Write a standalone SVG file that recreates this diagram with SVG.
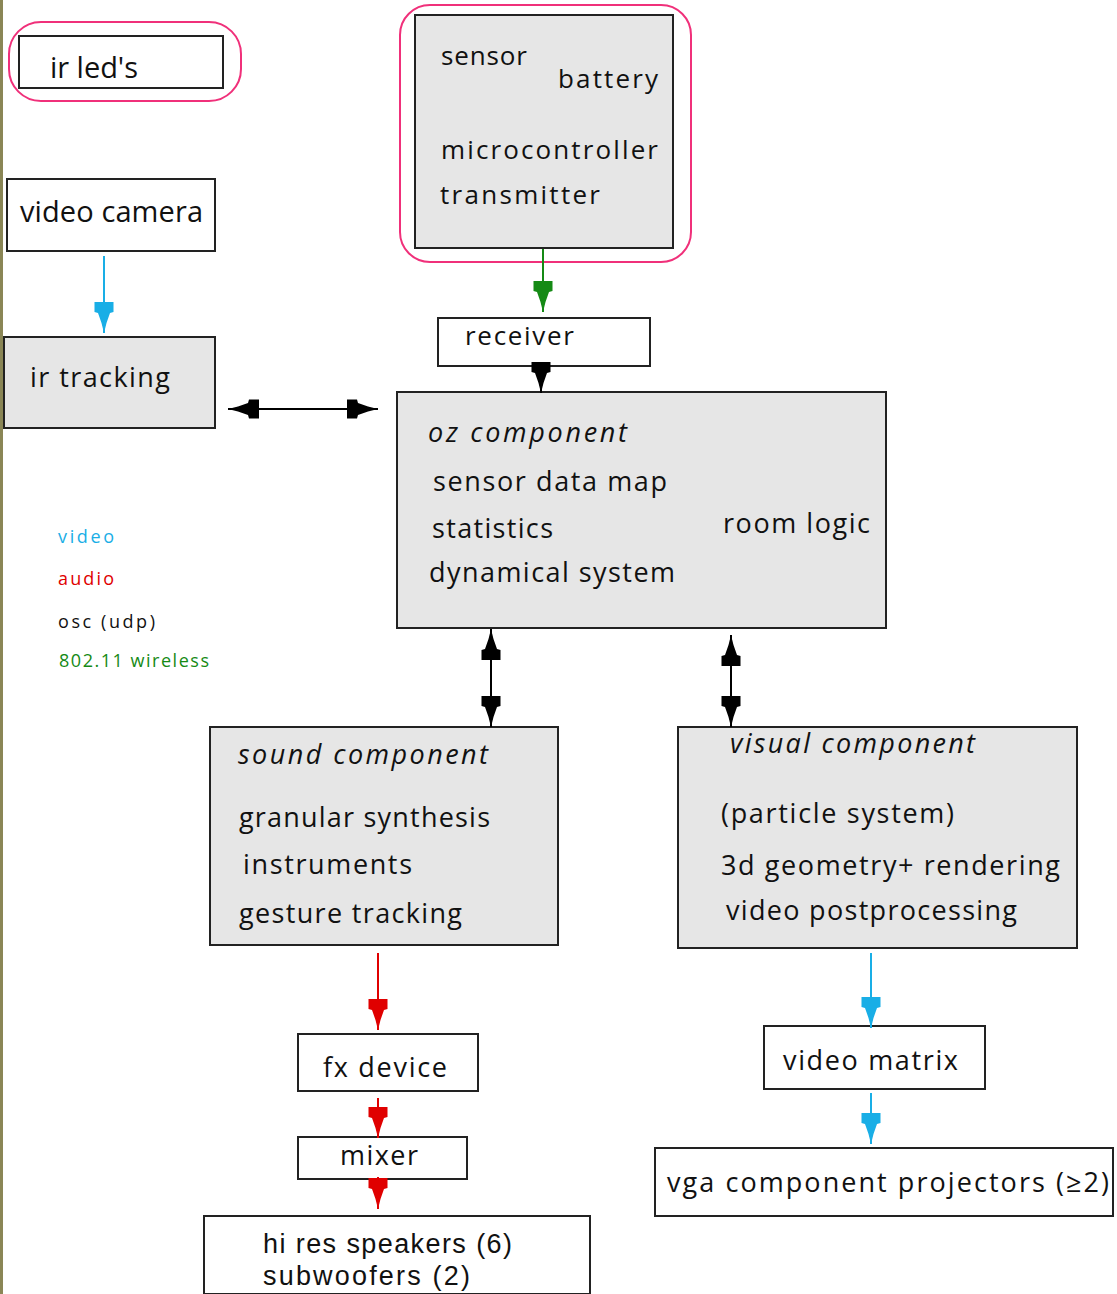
<svg xmlns="http://www.w3.org/2000/svg" width="1117" height="1294" viewBox="0 0 1117 1294">
  <style>
    .box { stroke: #222; stroke-width: 2; }
    .white { fill: #fff; }
    .gray { fill: #e6e6e6; }
    .halo { fill: none; stroke: #f0307a; stroke-width: 2; }
    text { font-family: "Open Sans", "Liberation Sans", sans-serif; fill: #111; }
    .t { font-size: 27px; }
    .tb { font-size: 29px; }
    .ts { font-size: 26px; }
    .tt { font-size: 27px; font-family: "Liberation Sans", "Open Sans", sans-serif; }
    .it { font-style: italic; }
    .leg { font-size: 18px; }
    .wire { fill: none; stroke-width: 2; }
  </style>
  <defs>
    <!-- chunky arrowhead, tip at origin pointing along +x -->
    <marker id="hk" markerUnits="userSpaceOnUse" viewBox="-32 -11 34 22" refX="0" refY="0" markerWidth="34" markerHeight="22" orient="auto-start-reverse">
      <path d="M0,0 L-10,-2.5 L-20,-6 L-21,-9.5 L-31,-9.5 L-31,9.5 L-21,9.5 L-20,6 L-10,2.5 Z" fill="#000"/>
    </marker>
    <marker id="hb" markerUnits="userSpaceOnUse" viewBox="-32 -11 34 22" refX="0" refY="0" markerWidth="34" markerHeight="22" orient="auto">
      <path d="M0,0 L-10,-2.5 L-20,-6 L-21,-9.5 L-31,-9.5 L-31,9.5 L-21,9.5 L-20,6 L-10,2.5 Z" fill="#19aee6"/>
    </marker>
    <marker id="hr" markerUnits="userSpaceOnUse" viewBox="-32 -11 34 22" refX="0" refY="0" markerWidth="34" markerHeight="22" orient="auto">
      <path d="M0,0 L-10,-2.5 L-20,-6 L-21,-9.5 L-31,-9.5 L-31,9.5 L-21,9.5 L-20,6 L-10,2.5 Z" fill="#e00000"/>
    </marker>
    <marker id="hg" markerUnits="userSpaceOnUse" viewBox="-32 -11 34 22" refX="0" refY="0" markerWidth="34" markerHeight="22" orient="auto">
      <path d="M0,0 L-10,-2.5 L-20,-6 L-21,-9.5 L-31,-9.5 L-31,9.5 L-21,9.5 L-20,6 L-10,2.5 Z" fill="#158a15"/>
    </marker>
  </defs>

  <rect x="0" y="0" width="1117" height="1294" fill="#fff"/>
  <rect x="0" y="0" width="3" height="1294" fill="#8a8656"/>

  <g id="ir-leds">
    <rect class="halo" x="9" y="22" width="232" height="79" rx="32"/>
    <rect class="box white" x="19" y="36" width="204" height="52"/>
    <text class="tb" x="50" y="78" textLength="88">ir led's</text>
  </g>

  <g id="sensor-unit">
    <rect class="halo" x="400" y="5" width="291" height="257" rx="30"/>
    <rect class="box gray" x="415" y="15" width="258" height="233"/>
    <text class="ts" x="441" y="65" textLength="86">sensor</text>
    <text class="ts" x="558" y="88" textLength="100">battery</text>
    <text class="ts" x="441" y="159" textLength="217">microcontroller</text>
    <text class="ts" x="440" y="204" textLength="160">transmitter</text>
  </g>

  <g id="receiver">
    <rect class="box white" x="438" y="318" width="212" height="48"/>
    <text class="ts" x="465" y="345" textLength="109">receiver</text>
  </g>

  <g id="video-camera">
    <rect class="box white" x="7" y="179" width="208" height="72"/>
    <text class="tb" x="20" y="222" textLength="183">video camera</text>
  </g>

  <g id="ir-tracking">
    <rect class="box gray" x="4" y="337" width="211" height="91"/>
    <text class="t" x="30" y="387" textLength="140">ir tracking</text>
  </g>

  <g id="oz-component">
    <rect class="box gray" x="397" y="392" width="489" height="236"/>
    <text class="t it" x="428" y="442" textLength="199">oz component</text>
    <text class="t" x="433" y="491" textLength="234">sensor  data map</text>
    <text class="t" x="432" y="538" textLength="121">statistics</text>
    <text class="t" x="429" y="582" textLength="246">dynamical system</text>
    <text class="t" x="723" y="533" textLength="147">room logic</text>
  </g>

  <g id="legend">
    <text class="leg" x="58" y="543" textLength="56" style="fill:#19aee6">video</text>
    <text class="leg" x="58" y="585" textLength="56" style="fill:#e00000">audio</text>
    <text class="leg" x="58" y="628" textLength="97" style="fill:#111">osc (udp)</text>
    <text class="leg" x="59" y="667" textLength="150" style="fill:#158a15">802.11 wireless</text>
  </g>

  <g id="sound-component">
    <rect class="box gray" x="210" y="727" width="348" height="218"/>
    <text class="t it" x="238" y="764" textLength="250">sound component</text>
    <text class="t" x="239" y="827" textLength="251">granular synthesis</text>
    <text class="t" x="243" y="874" textLength="169">instruments</text>
    <text class="t" x="239" y="923" textLength="223">gesture tracking</text>
  </g>

  <g id="visual-component">
    <rect class="box gray" x="678" y="727" width="399" height="221"/>
    <text class="t it" x="730" y="753" textLength="245">visual component</text>
    <text class="t" x="721" y="823" textLength="233">(particle system)</text>
    <text class="t" x="721" y="875" textLength="339">3d geometry+ rendering</text>
    <text class="t" x="726" y="920" textLength="291">video postprocessing</text>
  </g>

  <g id="fx-device">
    <rect class="box white" x="298" y="1034" width="180" height="57"/>
    <text class="t" x="323" y="1077" textLength="124">fx device</text>
  </g>

  <g id="mixer">
    <rect class="box white" x="298" y="1137" width="169" height="42"/>
    <text class="t" x="340" y="1165" textLength="78">mixer</text>
  </g>

  <g id="speakers">
    <rect class="box white" x="204" y="1216" width="386" height="78"/>
    <text class="tt" x="263" y="1253" textLength="249">hi res speakers (6)</text>
    <text class="tt" x="263" y="1285" textLength="207">subwoofers (2)</text>
  </g>

  <g id="video-matrix">
    <rect class="box white" x="764" y="1026" width="221" height="63"/>
    <text class="t" x="783" y="1070" textLength="175">video matrix</text>
  </g>

  <g id="projectors">
    <rect class="box white" x="655" y="1148" width="458" height="68"/>
    <text class="t" x="667" y="1192" textLength="442">vga component projectors (≥2)</text>
  </g>

  <g id="connectors">
    <line class="wire" x1="543" y1="249" x2="543" y2="312" stroke="#158a15" marker-end="url(#hg)"/>
    <line class="wire" x1="541" y1="367" x2="541" y2="393" stroke="#000" marker-end="url(#hk)"/>
    <line class="wire" x1="104" y1="256" x2="104" y2="333" stroke="#19aee6" marker-end="url(#hb)"/>
    <line class="wire" x1="228" y1="409" x2="378" y2="409" stroke="#000" marker-start="url(#hk)" marker-end="url(#hk)"/>
    <line class="wire" x1="491" y1="629" x2="491" y2="727" stroke="#000" marker-start="url(#hk)" marker-end="url(#hk)"/>
    <line class="wire" x1="731" y1="635" x2="731" y2="727" stroke="#000" marker-start="url(#hk)" marker-end="url(#hk)"/>
    <line class="wire" x1="378" y1="953" x2="378" y2="1030" stroke="#e00000" marker-end="url(#hr)"/>
    <line class="wire" x1="378" y1="1098" x2="378" y2="1138" stroke="#e00000" marker-end="url(#hr)"/>
    <line class="wire" x1="378" y1="1177" x2="378" y2="1209" stroke="#e00000" marker-end="url(#hr)"/>
    <line class="wire" x1="871" y1="953" x2="871" y2="1028" stroke="#19aee6" marker-end="url(#hb)"/>
    <line class="wire" x1="871" y1="1093" x2="871" y2="1144" stroke="#19aee6" marker-end="url(#hb)"/>
  </g>
</svg>
